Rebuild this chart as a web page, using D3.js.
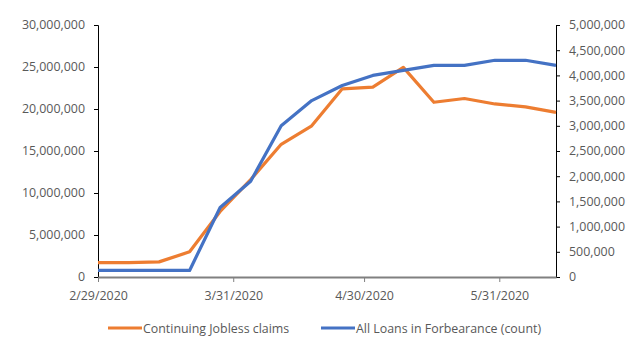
<!DOCTYPE html>
<html><head><meta charset="utf-8">
<script src="https://cdn.jsdelivr.net/npm/d3@7"></script>
<style>body{margin:0;background:#fff}svg{display:block}text{font-family:"Open Sans",sans-serif;fill:#595959}</style>
</head><body><svg id="c" width="640" height="356"></svg>
<script>
const dates = ["2020-02-29","2020-03-07","2020-03-14","2020-03-21","2020-03-28","2020-04-04","2020-04-11","2020-04-18","2020-04-25","2020-05-02","2020-05-09","2020-05-16","2020-05-23","2020-05-30","2020-06-06","2020-06-13"];
const joblessClaims = [1700000,1700000,1800000,3000000,7800000,11600000,15800000,18000000,22400000,22600000,24950000,20800000,21250000,20600000,20250000,19600000];
const forbearanceLoans = [130000,130000,130000,130000,1380000,1900000,3000000,3500000,3800000,4000000,4100000,4200000,4200000,4300000,4300000,4200000];
const xTickDates = ["2020-02-29","2020-03-31","2020-04-30","2020-05-31"];
const leftTicks = [0,5000000,10000000,15000000,20000000,25000000,30000000];
const rightTicks = [0,500000,1000000,1500000,2000000,2500000,3000000,3500000,4000000,4500000,5000000];
const seriesNames = ["Continuing Jobless claims","All Loans in Forbearance (count)"];
const colors = ["#ED7D31","#4472C4"];

const parse = d3.timeParse("%Y-%m-%d");
const svg = d3.select("#c");
const L=98,R=556,T=25,B=277;
const FS=12.4;
const x = d3.scaleTime().domain([parse(dates[0]),parse(dates[dates.length-1])]).range([L,R]);
const yL = d3.scaleLinear().domain([0,30000000]).range([B,T]);
const yR = d3.scaleLinear().domain([0,5000000]).range([B,T]);
const fmt = d3.format(",");

const gL = svg.append("g").attr("transform",`translate(${L},0)`)
  .call(d3.axisLeft(yL).tickValues(leftTicks).tickFormat(fmt).tickSize(4).tickPadding(9));
gL.select(".domain").attr("stroke","#000");
gL.selectAll(".tick line").attr("stroke","#000");
const gR = svg.append("g").attr("transform",`translate(${R},0)`)
  .call(d3.axisRight(yR).tickValues(rightTicks).tickFormat(fmt).tickSize(4).tickPadding(9));
gR.select(".domain").attr("stroke","#000");
gR.selectAll(".tick line").attr("stroke","#000");
const gB = svg.append("g").attr("transform",`translate(0,${B})`)
  .call(d3.axisBottom(x).tickValues(xTickDates.map(parse)).tickFormat(d3.timeFormat("%-m/%-d/%Y")).tickSize(5).tickSizeOuter(0).tickPadding(9));
gB.select(".domain").attr("stroke","#808080").attr("stroke-width",2);
gB.selectAll(".tick line").attr("stroke","#808080");
[gL,gR,gB].forEach(g=>{g.attr("font-family",null).attr("font-size",null);g.selectAll("text").attr("font-size",FS).attr("fill","#595959");});

const line = (y) => d3.line().x((d,i)=>x(parse(dates[i]))).y(d=>y(d));
svg.append("path").datum(joblessClaims).attr("d",line(yL)).attr("fill","none").attr("stroke",colors[0]).attr("stroke-width",3.2).attr("stroke-linejoin","round");
svg.append("path").datum(forbearanceLoans).attr("d",line(yR)).attr("fill","none").attr("stroke",colors[1]).attr("stroke-width",3.2).attr("stroke-linejoin","round");

const legX=[108,321];
seriesNames.forEach((n,i)=>{
  svg.append("line").attr("x1",legX[i]).attr("x2",legX[i]+34).attr("y1",328).attr("y2",328).attr("stroke",colors[i]).attr("stroke-width",3.2);
  svg.append("text").attr("x",legX[i]+35).attr("y",332.5).attr("font-size",FS).text(n);
});
</script></body></html>
